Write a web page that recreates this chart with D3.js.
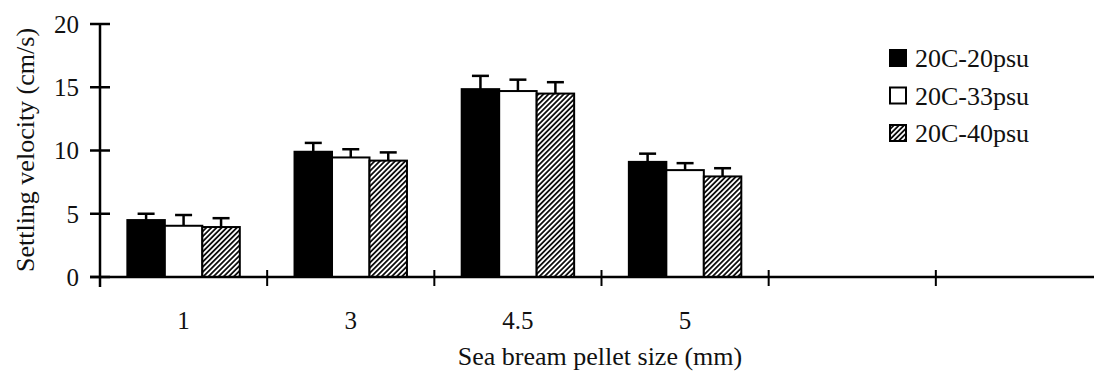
<!DOCTYPE html>
<html>
<head>
<meta charset="utf-8">
<script src="https://cdn.jsdelivr.net/npm/d3@7"></script>
<style>
  body { margin: 0; background: #fff; }
  svg text { font-family: "Liberation Serif", "Times New Roman", serif; fill: #111; }
</style>
</head>
<body>
<svg id="chart" width="1094" height="372"></svg>
<script>
// pellet sizes (mm), two empty slots follow on the axis
let sizes = ['1', '3', '4.5', '5'];
let slots = 6;
let series = ['20C-20psu', '20C-33psu', '20C-40psu'];

// mean settling velocity (cm/s)
let v20 = [4.5, 9.9, 14.85, 9.1];
let v33 = [4.05, 9.45, 14.7, 8.45];
let v40 = [3.95, 9.2, 14.5, 7.95];

// error bar (sd)
let e20 = [0.5, 0.7, 1.05, 0.65];
let e33 = [0.85, 0.65, 0.9, 0.55];
let e40 = [0.7, 0.65, 0.9, 0.65];

let yTicks = [0, 5, 10, 15, 20];

let svg = d3.select('#chart');

let x = d3.scaleBand()
          .domain(d3.range(slots))
          .range([100, 1103])
          .padding(0);

let x1 = d3.scaleBand()
           .domain(series)
           .range([0, x.bandwidth()])
           .paddingInner(0)
           .paddingOuter(0.73);

let y = d3.scaleLinear()
          .domain([0, 20])
          .range([277, 24]);

let defs = svg.append('defs');
let pat = defs.append('pattern')
              .attr('id', 'hatch')
              .attr('patternUnits', 'userSpaceOnUse')
              .attr('width', 3.6)
              .attr('height', 3.6)
              .attr('patternTransform', 'rotate(45)');
pat.append('rect').attr('width', 3.6).attr('height', 3.6).attr('fill', '#fff');
pat.append('line')
   .attr('x1', 0.9).attr('y1', 0).attr('x2', 0.9).attr('y2', 3.6)
   .attr('stroke', '#000').attr('stroke-width', 1.7);

let fills = { '20C-20psu': '#000', '20C-33psu': '#fff', '20C-40psu': 'url(#hatch)' };
let means = { '20C-20psu': v20, '20C-33psu': v33, '20C-40psu': v40 };
let errs = { '20C-20psu': e20, '20C-33psu': e33, '20C-40psu': e40 };

let rows = [];
series.forEach((s) => {
  sizes.forEach((c, i) => {
    rows.push({ series: s, slot: i, value: means[s][i], err: errs[s][i] });
  });
});

let cx = (d) => x(d.slot) + x1(d.series) + x1.bandwidth() / 2;

// error bars under the bars
let eb = svg.append('g')
            .attr('stroke', '#000')
            .attr('stroke-width', 2.5);

eb.selectAll('line.stem')
  .data(rows)
  .enter()
  .append('line')
  .attr('x1', cx)
  .attr('x2', cx)
  .attr('y1', (d) => y(d.value))
  .attr('y2', (d) => y(d.value + d.err));

eb.selectAll('line.cap')
  .data(rows)
  .enter()
  .append('line')
  .attr('x1', (d) => cx(d) - 8.5)
  .attr('x2', (d) => cx(d) + 8.5)
  .attr('y1', (d) => y(d.value + d.err))
  .attr('y2', (d) => y(d.value + d.err));

svg.append('g')
   .selectAll('rect')
   .data(rows)
   .enter()
   .append('rect')
   .attr('x', (d) => x(d.slot) + x1(d.series))
   .attr('y', (d) => y(d.value))
   .attr('width', x1.bandwidth())
   .attr('height', (d) => y(0) - y(d.value))
   .attr('fill', (d) => fills[d.series])
   .attr('stroke', '#000')
   .attr('stroke-width', 2);

// y axis
let yAxis = svg.append('g');
yAxis.append('line')
     .attr('x1', 100).attr('x2', 100)
     .attr('y1', y(20)).attr('y2', 287)
     .attr('stroke', '#000').attr('stroke-width', 2.5);
yAxis.selectAll('line.tick')
     .data(yTicks)
     .enter()
     .append('line')
     .attr('x1', 90).attr('x2', 110)
     .attr('y1', (d) => y(d)).attr('y2', (d) => y(d))
     .attr('stroke', '#000').attr('stroke-width', 2.5);
yAxis.selectAll('text')
     .data(yTicks)
     .enter()
     .append('text')
     .attr('x', 79)
     .attr('y', (d) => y(d))
     .attr('dy', '0.35em')
     .attr('text-anchor', 'end')
     .style('font-size', '25px')
     .text((d) => d);

// x axis
let xAxis = svg.append('g');
xAxis.append('line')
     .attr('x1', 90).attr('x2', 1094)
     .attr('y1', y(0)).attr('y2', y(0))
     .attr('stroke', '#000').attr('stroke-width', 2.5);
xAxis.selectAll('line.tick')
     .data(d3.range(1, slots))
     .enter()
     .append('line')
     .attr('x1', (d) => x(d)).attr('x2', (d) => x(d))
     .attr('y1', y(0) - 7).attr('y2', y(0) + 9)
     .attr('stroke', '#000').attr('stroke-width', 2);
xAxis.selectAll('text')
     .data(sizes)
     .enter()
     .append('text')
     .attr('x', (d, i) => x(i) + x.bandwidth() / 2)
     .attr('y', 320)
     .attr('dy', '0.35em')
     .attr('text-anchor', 'middle')
     .style('font-size', '25px')
     .text((d) => d);

svg.append('text')
   .attr('x', 600)
   .attr('y', 365)
   .attr('text-anchor', 'middle')
   .style('font-size', '26px')
   .text('Sea bream pellet size (mm)');

svg.append('text')
   .attr('transform', 'translate(25,150) rotate(-90)')
   .attr('dy', '0.35em')
   .attr('text-anchor', 'middle')
   .style('font-size', '26px')
   .text('Settling velocity (cm/s)');

// legend
let legend = svg.append('g')
                .selectAll('g')
                .data(series)
                .enter()
                .append('g')
                .attr('transform', (d, i) => 'translate(890,' + (58 + i * 37.5) + ')');
legend.append('rect')
      .attr('x', 0).attr('y', -8)
      .attr('width', 16).attr('height', 16)
      .attr('fill', (d) => fills[d])
      .attr('stroke', '#000').attr('stroke-width', 2);
legend.append('text')
      .attr('x', 25)
      .attr('dy', '0.35em')
      .style('font-size', '26px')
      .text((d) => d);
</script>
</body>
</html>
